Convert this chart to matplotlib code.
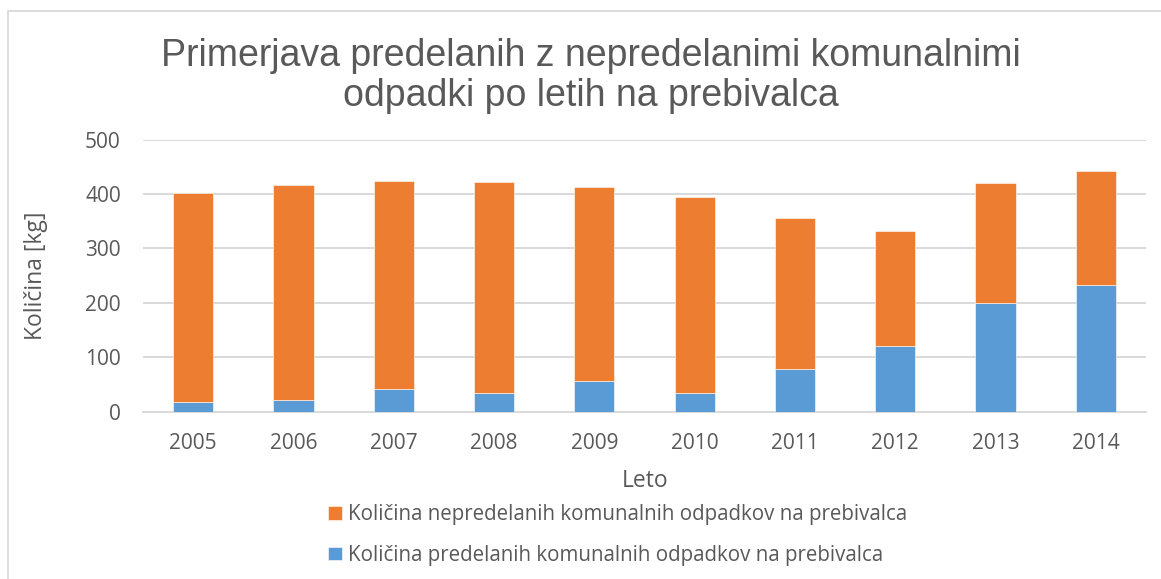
import matplotlib
matplotlib.use("Agg")
import matplotlib.pyplot as plt
from matplotlib.lines import Line2D

years = ["2005", "2006", "2007", "2008", "2009", "2010", "2011", "2012", "2013", "2014"]
predelani = [17, 21, 41, 34, 56, 35, 79, 121, 199, 233]
nepredelani = [384, 396, 383, 388, 356, 360, 276, 211, 221, 209]
yticks = [0, 100, 200, 300, 400, 500]

title = "Primerjava predelanih z nepredelanimi komunalnimi\nodpadki po letih na prebivalca"
label_nep = "Količina nepredelanih komunalnih odpadkov na prebivalca"
label_pre = "Količina predelanih komunalnih odpadkov na prebivalca"

title_font = "Liberation Sans"
body_font = "Open Sans"

ORANGE = "#ED7D31"
BLUE = "#5B9BD5"
GRID = "#D9D9D9"
TXT = "#595959"

W, H = 1161, 579
fig = plt.figure(figsize=(W / 100, H / 100), dpi=100)
fig.patch.set_facecolor("white")

# outer chart border (top and left visible)
fig.add_artist(Line2D([8 / W, 8 / W, 1.0], [0.0, 1 - 11 / H, 1 - 11 / H],
                      transform=fig.transFigure, color="#D9D9D9", linewidth=1.3))

ax = fig.add_axes([143 / W, 1 - 411.7 / H, (1146 - 143) / W, (411.7 - 139.5) / H])
x = list(range(len(years)))
ax.bar(x, predelani, width=0.4, color=BLUE, label=label_pre, zorder=3,
       edgecolor="white", linewidth=0.4)
ax.bar(x, nepredelani, width=0.4, bottom=predelani, color=ORANGE, label=label_nep,
       zorder=3, edgecolor="white", linewidth=0.4)

ax.set_xlim(-0.5, len(years) - 0.5)
ax.set_ylim(0, 500)
ax.set_yticks(yticks)
ax.set_yticklabels([str(v) for v in yticks], fontfamily=body_font, fontsize=15, color=TXT)
ax.set_xticks(x)
ax.set_xticklabels(years, fontfamily=body_font, fontsize=15, color=TXT)
ax.tick_params(axis="both", length=0)
ax.tick_params(axis="y", pad=16)
ax.tick_params(axis="x", pad=15)
ax.yaxis.grid(True, color=GRID, linewidth=1.4, zorder=0)
for s in ["top", "right", "left"]:
    ax.spines[s].set_visible(False)
ax.spines["bottom"].set_color(GRID)
ax.spines["bottom"].set_linewidth(1.4)

fig.text(591 / W, 1 - 76 / H, title, ha="center", va="center",
         fontfamily=title_font, fontsize=27, color=TXT, linespacing=1.17)
fig.text(36 / W, 1 - 276 / H, "Količina [kg]", rotation=90, ha="center", va="center",
         fontfamily=body_font, fontsize=16.5, color=TXT)
fig.text(645 / W, 1 - 481 / H, "Leto", ha="center", va="center",
         fontfamily=body_font, fontsize=16.5, color=TXT)

handles, labels = ax.get_legend_handles_labels()
leg = fig.legend(handles[::-1], labels[::-1], loc="center left",
                 bbox_to_anchor=(320 / W, 1 - 535 / H), frameon=False,
                 prop={"family": body_font, "size": 14.8},
                 handlelength=0.65, handleheight=0.65, handletextpad=0.3,
                 labelspacing=0.95, borderaxespad=0)
for t in leg.get_texts():
    t.set_color(TXT)

fig.savefig("out.png", dpi=100, facecolor="white")
